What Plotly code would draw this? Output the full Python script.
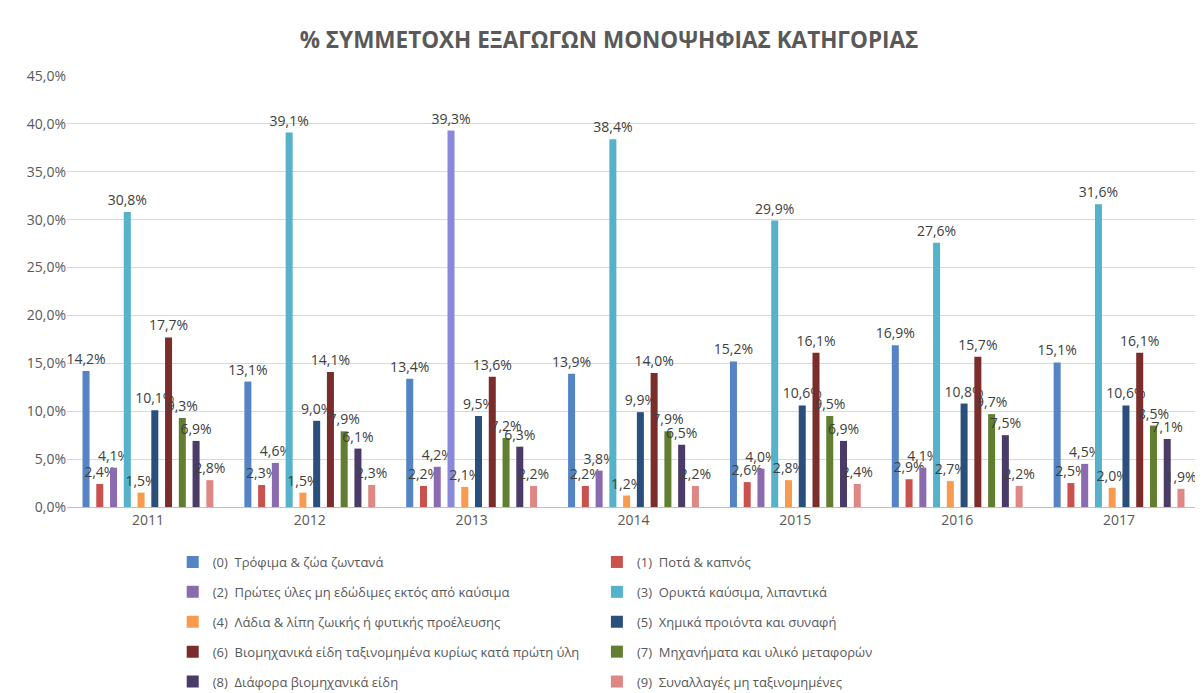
import plotly.graph_objects as go

years = ["2011", "2012", "2013", "2014", "2015", "2016", "2017"]

names = [
    "(0)\u00a0 Τρόφιμα & ζώα ζωντανά",
    "(1)\u00a0 Ποτά & καπνός",
    "(2)\u00a0 Πρώτες ύλες μη εδώδιμες εκτός από καύσιμα",
    "(3)\u00a0 Ορυκτά καύσιμα, λιπαντικά",
    "(4)\u00a0 Λάδια & λίπη ζωικής ή φυτικής προέλευσης",
    "(5)\u00a0 Χημικά προιόντα και συναφή",
    "(6)\u00a0 Βιομηχανικά είδη ταξινομημένα κυρίως κατά πρώτη ύλη",
    "(7)\u00a0 Μηχανήματα και υλικό μεταφορών",
    "(8)\u00a0 Διάφορα βιομηχανικά είδη",
    "(9)\u00a0 Συναλλαγές μη ταξινομημένες",
]

s0 = [14.2, 13.1, 13.4, 13.9, 15.2, 16.9, 15.1]
s1 = [2.4, 2.3, 2.2, 2.2, 2.6, 2.9, 2.5]
s2 = [4.1, 4.6, 4.2, 3.8, 4.0, 4.1, 4.5]
s3 = [30.8, 39.1, 39.3, 38.4, 29.9, 27.6, 31.6]
s4 = [1.5, 1.5, 2.1, 1.2, 2.8, 2.7, 2.0]
s5 = [10.1, 9.0, 9.5, 9.9, 10.6, 10.8, 10.6]
s6 = [17.7, 14.1, 13.6, 14.0, 16.1, 15.7, 16.1]
s7 = [9.3, 7.9, 7.2, 7.9, 9.5, 9.7, 8.5]
s8 = [6.9, 6.1, 6.3, 6.5, 6.9, 7.5, 7.1]
s9 = [2.8, 2.3, 2.2, 2.2, 2.4, 2.2, 1.9]

series = [s0, s1, s2, s3, s4, s5, s6, s7, s8, s9]

colors = ["#5584c4", "#c9524f", "#8a6bb0", "#55b2ca", "#f99b4f",
          "#2a4f7c", "#7a2d2b", "#627e30", "#4a3b68", "#df8785"]
# the 2013 bar of series (3) is drawn with a different (blue-violet) fill
s3_colors = [colors[3]] * len(years)
s3_colors[2] = "#8a88da"

FONT = "Open Sans, sans-serif"
W, H = 1195, 685          # page body has an 8px margin
L, R, T, B = 59, 3, 68, 186
PH = H - T - B            # plot height in px

fig = go.Figure()
for i, (name, vals) in enumerate(zip(names, series)):
    mc = s3_colors if i == 3 else colors[i]
    fig.add_trace(go.Bar(
        x=years, y=vals, name=name,
        marker=dict(color=mc, line=dict(width=0)),
        texttemplate="%{y:.1f}%",
        textposition="outside",
        textfont=dict(size=14, color="#404040", family=FONT),
        constraintext="none",
        cliponaxis=False,
        legend="legend" if i % 2 == 0 else "legend2",
        legendgroup=str(i),
    ))

legend_common = dict(
    orientation="v",
    yanchor="top",
    y=-40 / PH,
    font=dict(size=13, color="#595959", family=FONT),
    bgcolor="rgba(0,0,0,0)",
    tracegroupgap=10,
    itemwidth=30,
)

fig.update_layout(
    width=W, height=H,
    margin=dict(l=L, r=R, t=T, b=B, autoexpand=False),
    paper_bgcolor="white",
    plot_bgcolor="white",
    separators=", ",
    barmode="group",
    bargap=0.15,
    bargroupgap=0.49,
    title=dict(
        text="<b>% ΣΥΜΜΕΤΟΧΗ ΕΞΑΓΩΓΩΝ ΜΟΝΟΨΗΦΙΑΣ ΚΑΤΗΓΟΡΙΑΣ</b>",
        x=601 / W, xanchor="center",
        y=1 - 32 / H, yanchor="middle",
        font=dict(size=22.5, color="#595959", family=FONT),
    ),
    legend=dict(x=0.0933, xanchor="left", **legend_common),
    legend2=dict(x=0.4677, xanchor="left", **legend_common),
    xaxis=dict(
        type="category",
        showline=True, linecolor="#bfbfbf", linewidth=1,
        ticks="", showgrid=False,
        tickfont=dict(size=14, color="#595959", family=FONT),
    ),
    yaxis=dict(
        range=[0, 45], dtick=5, tick0=0,
        tickformat=".1f", ticksuffix="%",
        showgrid=True, gridcolor="#d9d9d9", gridwidth=1,
        zeroline=False, showline=False, ticks="",
        tickfont=dict(size=14, color="#595959", family=FONT),
    ),
)

fig.write_html("out.html")
